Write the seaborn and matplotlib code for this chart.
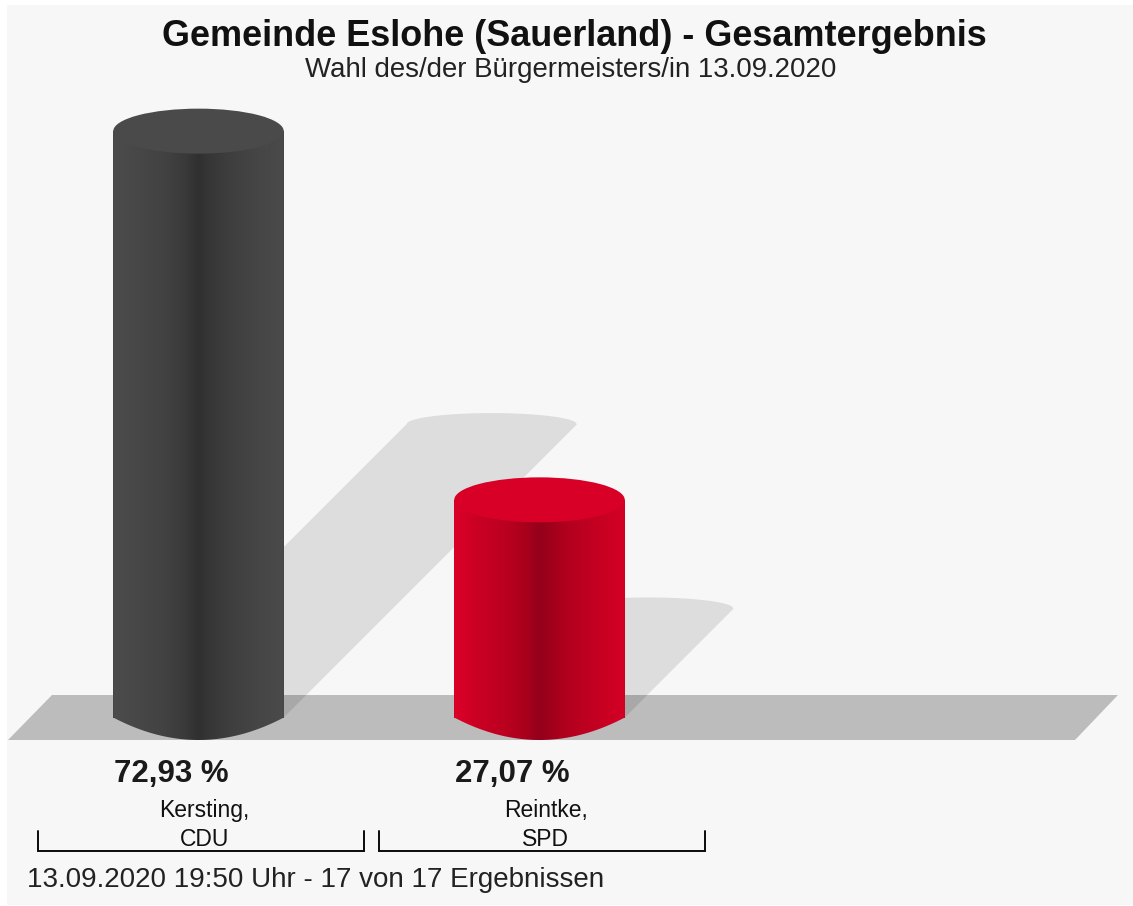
import numpy as np
import pandas as pd
import matplotlib
matplotlib.use("Agg")
import matplotlib.pyplot as plt
from matplotlib.colors import LinearSegmentedColormap
from matplotlib.patches import Ellipse, PathPatch, Polygon
from matplotlib.path import Path
import seaborn as sns

# ---- data ----
candidates = ["Kersting,\nCDU", "Reintke,\nSPD"]
shares = [72.93, 27.07]
share_labels = ["72,93 %", "27,07 %"]
colors = ["#3d3d3d", "#c00020"]
title = "Gemeinde Eslohe (Sauerland) - Gesamtergebnis"
subtitle = "Wahl des/der Bürgermeisters/in 13.09.2020"
footer = "13.09.2020 19:50 Uhr - 17 von 17 Ergebnissen"

# ---- style / layout ----
sns.set_theme(style="white")
plt.rcParams["font.family"] = ["Liberation Sans", "DejaVu Sans"]
W, H = 1133, 906
PANEL = "#f7f7f7"
X0, PX_CAT = 198.5, 341.0      # pixel of first category, pixels per category
Y0, PX_PCT = 717.5, 8.04       # pixel of 0 %, pixels per percent
PL, PT, PB = 7, 5, 905         # panel edges in pixels
ELL = 22.5 / PX_PCT            # cylinder ellipse half height in % units
gradients = [
    ["#4c4c4c", "#484848", "#424242", "#3a3a3a", "#303030", "#363636", "#3e3e3e", "#464646", "#4a4a4a"],
    ["#dc0028", "#cc0024", "#bb0020", "#a8001c", "#94001a", "#a0001b", "#b4001f", "#c60022", "#d40026"],
]
top_colors = ["#4a4a4a", "#d80026"]
stops = [0, 0.12, 0.3, 0.42, 0.5, 0.56, 0.68, 0.85, 1]


def cx(px):
    return (px - X0) / PX_CAT


def cy(py):
    return (Y0 - py) / PX_PCT


fig = plt.figure(figsize=(W / 100, H / 100), dpi=100, facecolor="white")
ax = fig.add_axes([PL / W, (H - PB) / H, (W - PL) / W, (PB - PT) / H], facecolor=PANEL)

df = pd.DataFrame({"Kandidat": candidates, "Anteil": shares})
sns.barplot(data=df, x="Kandidat", y="Anteil", hue="Kandidat", palette=colors,
            width=0.5, legend=False, saturation=1, linewidth=0, edgecolor="none", ax=ax, zorder=2.5)
bars = list(ax.patches)

# floor
ax.add_patch(Polygon([(cx(8), cy(740)), (cx(52), cy(695)), (cx(1118), cy(695)), (cx(1075), cy(740))],
                     closed=True, fc="#bcbcbc", ec="none", zorder=1))

t = np.linspace(-1, 1, 121)
for i, bar in enumerate(bars):
    x0, w, v = bar.get_x(), bar.get_width(), bar.get_height()
    xc, a = x0 + w / 2, w / 2

    # shadow: half the height, sheared 45 degrees to the right
    dy = v / 2
    dx = dy * PX_PCT / PX_CAT
    arc_top = np.sqrt(1 - t ** 2) * ELL / 2
    sx = list(xc + a * t + dx) + [xc + a, xc - a]
    sy = list(dy + arc_top) + [0, 0]
    ax.add_patch(Polygon(np.column_stack([sx, sy]), closed=True, fc="black", alpha=0.10,
                         ec="none", zorder=2))

    # cylinder body: gradient clipped to the silhouette with a curved foot
    cmap = LinearSegmentedColormap.from_list(f"c{i}", list(zip(stops, gradients[i])))
    foot = -ELL * (1 - t ** 2)
    px = list(xc + a * t) + [xc + a, xc - a]
    py = list(foot) + [v, v]
    sil = Path(np.column_stack([px + [px[0]], py + [py[0]]]), closed=True)
    clip = PathPatch(sil, transform=ax.transData, fc="none", ec="none")
    ax.add_patch(clip)
    im = ax.imshow(np.linspace(0, 1, 512)[None, :], extent=(x0, x0 + w, -ELL, v), cmap=cmap,
                   aspect="auto", interpolation="bilinear", zorder=3)
    im.set_clip_path(clip)
    ax.add_patch(Ellipse((xc, v), w, 2 * ELL, fc=top_colors[i], ec="none", zorder=4))

    # value and bracket
    ax.text(xc - 0.08, cy(774), share_labels[i], ha="center", va="center", fontsize=22.5,
            fontweight="bold", color="#1a1a1a", zorder=5)
    ax.text(xc + 0.018, cy(825), candidates[i], ha="center", va="center", fontsize=16.5,
            color="#111111", linespacing=1.37, zorder=5)
    bl, br = xc - 0.472, xc + 0.485
    ax.plot([bl, bl, br, br], [cy(831), cy(851), cy(851), cy(831)], color="#0a0a0a", lw=1.4,
            solid_joinstyle="miter", zorder=4.5)

ax.text(cx(574), cy(36), title, ha="center", va="center", fontsize=25.9, fontweight="bold", color="#111111")
ax.text(cx(571), cy(70), subtitle, ha="center", va="center", fontsize=19.9, color="#222222")
ax.text(cx(27), cy(880), footer, ha="left", va="center", fontsize=20.0, color="#222222")

ax.set_xlim(cx(PL), cx(W))
ax.set_ylim(cy(PB), cy(PT))
ax.axis("off")
ax.add_artist(plt.Rectangle((0, 0), 1, 1, transform=ax.transAxes, fc=PANEL, ec="none", zorder=0))
fig.savefig("out.png", dpi=100, facecolor="white")
